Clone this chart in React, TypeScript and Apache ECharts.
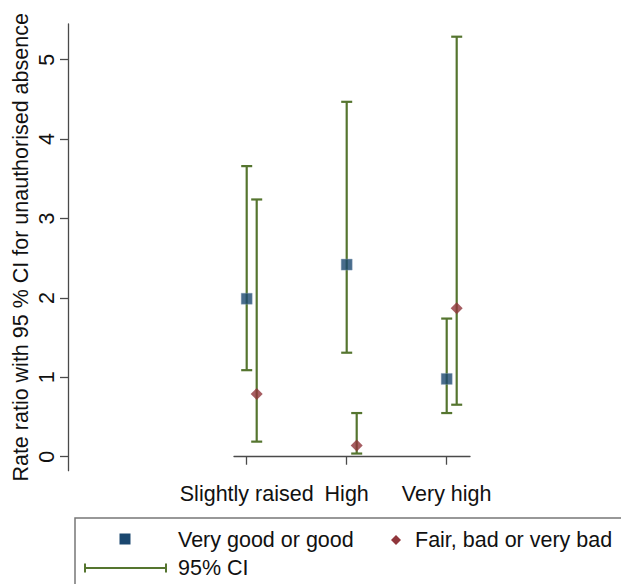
import React, { useEffect, useRef } from "react";
import * as echarts from "echarts";

const categories = ["Slightly raised", "High", "Very high"];
const catPos = [1, 2, 3];
const yTicks = [0, 1, 2, 3, 4, 5];

const goodRR = [1.99, 2.42, 0.98];
const goodLo = [1.09, 1.31, 0.55];
const goodHi = [3.66, 4.47, 1.74];

const fairRR = [0.79, 0.14, 1.87];
const fairLo = [0.19, 0.04, 0.655];
const fairHi = [3.24, 0.55, 5.29];

const fairShift = 0.1;

const NAVY = "#1a476f";
const MAROON = "#90353b";
const GREEN = "#55752f";
const AXIS = "#4a4a4a";
const FONT = "'Liberation Sans', Arial, sans-serif";
const FS = 21.5;

export default function App() {
  const ref = useRef<HTMLDivElement>(null);

  useEffect(() => {
    document.body.style.margin = "0";
    const chart = echarts.init(ref.current!, null, { renderer: "svg" });

    const goodPts = goodRR.map((v, i) => [catPos[i], v]);
    const fairPts = fairRR.map((v, i) => [catPos[i] + fairShift, v]);
    const ciData = [
      ...goodLo.map((lo, i) => [catPos[i], lo, goodHi[i]]),
      ...fairLo.map((lo, i) => [catPos[i] + fairShift, lo, fairHi[i]]),
    ];

    const renderCI = (params: any, api: any) => {
      const x = api.value(0);
      const lo = api.coord([x, api.value(1)]);
      const hi = api.coord([x, api.value(2)]);
      const hw = 5.5;
      const style = { stroke: GREEN, lineWidth: 2.2 };
      return {
        type: "group",
        children: [
          { type: "line", shape: { x1: lo[0], y1: lo[1], x2: hi[0], y2: hi[1] }, style },
          { type: "line", shape: { x1: lo[0] - hw, y1: lo[1], x2: lo[0] + hw, y2: lo[1] }, style },
          { type: "line", shape: { x1: hi[0] - hw, y1: hi[1], x2: hi[0] + hw, y2: hi[1] }, style },
        ],
      };
    };

    const textStyle = { fill: "#111", font: `${FS}px ${FONT}` };

    chart.setOption({
      animation: false,
      backgroundColor: "#ffffff",
      grid: { left: 234, right: 151, top: 24, bottom: 113.3 },
      xAxis: {
        type: "value",
        min: 0.873,
        max: 3.233,
        axisLine: { show: true, lineStyle: { color: AXIS, width: 1.3 } },
        axisTick: { show: true, length: 8, customValues: catPos, lineStyle: { color: AXIS, width: 1.3 } },
        axisLabel: {
          customValues: catPos,
          formatter: (v: number) => categories[catPos.indexOf(Math.round(v))] ?? "",
          color: "#111",
          fontSize: FS,
          fontFamily: FONT,
          margin: 12,
        },
        splitLine: { show: false },
      },
      yAxis: {
        type: "value",
        min: -0.176,
        max: 5.45,
        offset: 166,
        name: "Rate ratio with 95 % CI for unauthorised absence",
        nameLocation: "middle",
        nameGap: 36,
        nameTextStyle: { color: "#111", fontSize: FS, fontFamily: FONT },
        axisLine: { show: true, lineStyle: { color: AXIS, width: 1.3 } },
        axisTick: { show: true, length: 8, customValues: yTicks, lineStyle: { color: AXIS, width: 1.3 } },
        axisLabel: {
          customValues: yTicks,
          rotate: 90,
          color: "#111",
          fontSize: FS,
          fontFamily: FONT,
          margin: 10,
        },
        splitLine: { show: false },
      },
      series: [
        {
          type: "custom",
          name: "95% CI",
          renderItem: renderCI,
          data: ciData,
          z: 1,
        },
        {
          type: "scatter",
          name: "Very good or good",
          data: goodPts,
          symbol: "rect",
          symbolSize: 11,
          itemStyle: { color: NAVY, borderColor: "#8aa2b8", borderWidth: 0.5 },
          z: 3,
        },
        {
          type: "scatter",
          name: "Fair, bad or very bad",
          data: fairPts,
          symbol: "diamond",
          symbolSize: 12,
          itemStyle: { color: MAROON },
          z: 3,
        },
      ],
      graphic: [
        {
          type: "rect",
          shape: { x: 75, y: 518, width: 600, height: 120 },
          style: { fill: "none", stroke: "#777", lineWidth: 1.5 },
        },
        {
          type: "rect",
          shape: { x: 119.5, y: 533.5, width: 11, height: 11 },
          style: { fill: NAVY },
        },
        {
          type: "text",
          x: 178,
          y: 540,
          style: { ...textStyle, text: "Very good or good", verticalAlign: "middle" },
        },
        {
          type: "polygon",
          shape: { points: [[396, 535], [401, 540], [396, 545], [391, 540]] },
          style: { fill: MAROON },
        },
        {
          type: "text",
          x: 415,
          y: 540,
          style: { ...textStyle, text: "Fair, bad or very bad", verticalAlign: "middle" },
        },
        {
          type: "line",
          shape: { x1: 85, y1: 568, x2: 166, y2: 568 },
          style: { stroke: GREEN, lineWidth: 2 },
        },
        {
          type: "line",
          shape: { x1: 85, y1: 563.5, x2: 85, y2: 572.5 },
          style: { stroke: GREEN, lineWidth: 2 },
        },
        {
          type: "line",
          shape: { x1: 166, y1: 563.5, x2: 166, y2: 572.5 },
          style: { stroke: GREEN, lineWidth: 2 },
        },
        {
          type: "text",
          x: 178,
          y: 568,
          style: { ...textStyle, text: "95% CI", verticalAlign: "middle" },
        },
      ],
    });

    return () => chart.dispose();
  }, []);

  return <div ref={ref} style={{ width: 621, height: 584 }} />;
}
